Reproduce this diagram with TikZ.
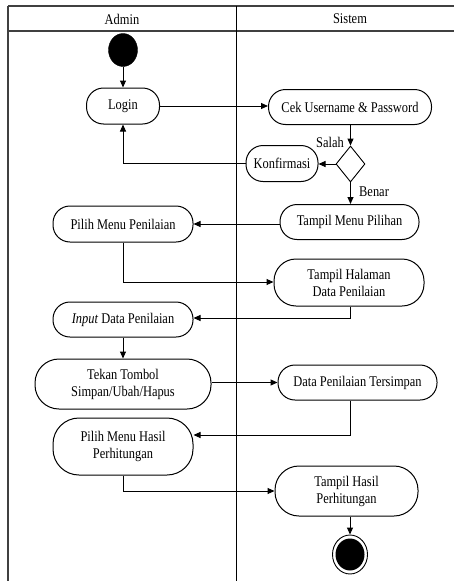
\documentclass[tikz,border=0pt]{standalone}
\usepackage{fontspec}
\setmainfont[FakeStretch=0.84]{Liberation Serif}
\usetikzlibrary{arrows.meta,shapes.geometric}
\tikzset{
  act/.style={draw, line width=1pt, rounded corners=17pt, inner sep=0pt, align=center, font=\fontsize{14.8}{17}\selectfont},
  lbl/.style={inner sep=0pt, font=\fontsize{14.8}{17}\selectfont},
  flow/.style={line width=1pt, -{Triangle[length=7pt,width=6pt]}},
  lane/.style={line width=1.1pt, draw=black!75},
}
\begin{document}
\begin{tikzpicture}[x=1pt,y=-1pt]
\useasboundingbox (0,0) rectangle (454,581);
% swimlanes
\draw[lane] (8,6) -- (454,6);
\draw[lane] (8,31) -- (454,31);
\draw[lane] (8,6) -- (8,581);
\draw[line width=1pt] (236,6) -- (236,581);
\node[lbl] (hA) at (122,19) {Admin};
\node[lbl] (hS) at (350,19) {Sistem};
% start
\node[draw, fill=black, ellipse, minimum width=29pt, minimum height=33pt, inner sep=0pt] (start) at (123,50) {};
% nodes
\node[act, minimum width=73pt, minimum height=36pt] (login) at (123,106) {Login};
\node[act, minimum width=163pt, minimum height=35pt] (cek) at (350,107) {Cek Username \& Password};
\node[draw, line width=0.9pt, diamond, minimum width=29pt, minimum height=36pt, inner sep=0pt] (dec) at (350.5,164) {};
\node[act, minimum width=72pt, minimum height=36pt] (konf) at (282,163.5) {Konfirmasi};
\node[act, minimum width=139pt, minimum height=35pt] (tmp) at (349.5,222) {Tampil Menu Pilihan};
\node[act, minimum width=140pt, minimum height=36pt] (pmp) at (123,224) {Pilih Menu Penilaian};
\node[act, minimum width=150pt, minimum height=47pt, rounded corners=22pt] (thd) at (349,282.5) {Tampil Halaman\\Data Penilaian};
\node[act, minimum width=140pt, minimum height=35pt] (inp) at (123,319.5) {\textit{Input} Data Penilaian};
\node[act, minimum width=176pt, minimum height=50pt, rounded corners=24pt] (tek) at (123,384) {Tekan Tombol\\Simpan/Ubah/Hapus};
\node[act, minimum width=159pt, minimum height=35pt] (dpt) at (357.5,382.5) {Data Penilaian Tersimpan};
\node[act, minimum width=140pt, minimum height=57pt, rounded corners=26pt] (pmh) at (123,446.5) {Pilih Menu Hasil\\Perhitungan};
\node[act, minimum width=143pt, minimum height=50pt, rounded corners=24pt] (thp) at (346.5,491) {Tampil Hasil\\Perhitungan};
% end
\node[draw, line width=0.9pt, ellipse, minimum width=35pt, minimum height=39pt, inner sep=0pt] (endo) at (350,554.5) {};
\node[fill=black, ellipse, minimum width=29pt, minimum height=32pt, inner sep=0pt] (endi) at (350,554.5) {};
% connectors
\draw[flow] (start) -- (login);
\draw[flow] (login) -- (cek.west |- login);
\draw[flow] (cek.south -| dec) -- (dec.north);
\node[lbl, anchor=south east] (salah) at (344,148) {Salah};
\draw[flow] (dec.west) -- (konf.east |- dec);
\draw[flow] (konf.west) -| (login.south);
\draw[flow] (dec.south) -- (tmp.north -| dec);
\node[lbl, anchor=west] (benar) at (359,192) {Benar};
\draw[flow] (tmp.west |- pmp) -- (pmp.east);
\coordinate (c1) at (123,282);
\draw[flow] (pmp.south) -- (c1) -- (thd.west |- c1);
\coordinate (c2) at (350,318);
\draw[flow] (thd.south -| c2) -- (c2) -- (inp.east |- c2);
\draw[flow] (inp) -- (tek);
\draw[flow] (tek.east |- dpt) -- (dpt.west);
\coordinate (c3) at (350,435);
\draw[flow] (dpt.south -| c3) -- (c3) -- (pmh.east |- c3);
\coordinate (c4) at (123,491);
\draw[flow] (pmh.south) -- (c4) -- (thp.west);
\draw[flow] (thp.south -| endo) -- (endo.north);
\end{tikzpicture}
\end{document}
